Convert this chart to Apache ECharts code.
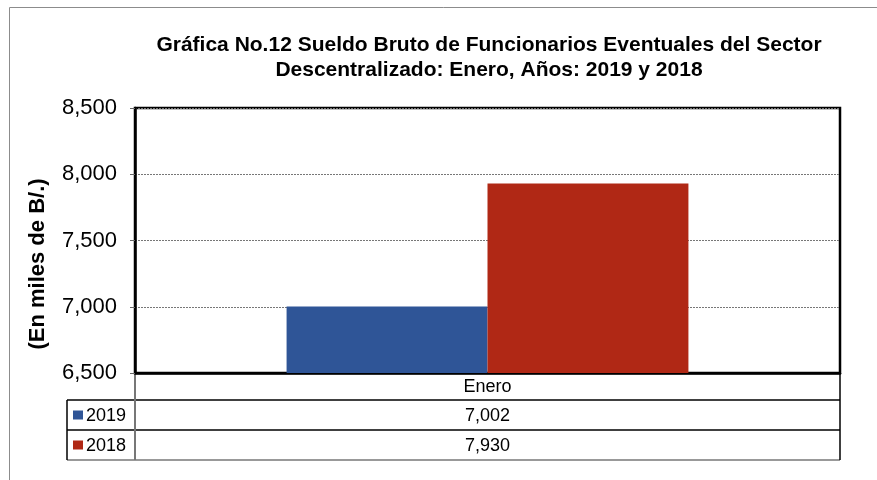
<!DOCTYPE html>
<html>
<head>
<meta charset="utf-8">
<script src="https://cdn.jsdelivr.net/npm/echarts@6/dist/echarts.min.js"></script>
<style>
  html, body { margin: 0; padding: 0; background: #fff; }
  #chart { width: 877px; height: 480px; }
</style>
</head>
<body>
<div id="chart"></div>
<script>
// datos
const categories = ['Enero'];
const years = ['2019', '2018'];
const sueldo2019 = [7002];
const sueldo2018 = [7930];
const yMin = 6500, yMax = 8500, yStep = 500;

const colors = ['#2F5597', '#B02815'];
const font = 'Arial, "Liberation Sans", sans-serif';
const fmt = v => v.toLocaleString('en-US');

// medidas del area de trazado y de la tabla
const L = 135, R = 840, T = 108, B = 373;
const rows = [B, 400, 430, 460];
const keyLeft = 67;

let myChart = echarts.init(document.getElementById('chart'));

const tableGraphics = [];
// recuadro exterior del grafico
tableGraphics.push({
  type: 'rect', silent: true,
  shape: { x: 9.5, y: 7.5, width: 900, height: 520 },
  style: { fill: null, stroke: '#8c8c8c', lineWidth: 1 }
});
// lineas horizontales de la tabla
tableGraphics.push({ type: 'line', shape: { x1: keyLeft, y1: rows[1], x2: R, y2: rows[1] }, style: { stroke: '#000', lineWidth: 1.5 } });
tableGraphics.push({ type: 'line', shape: { x1: keyLeft, y1: rows[2], x2: R, y2: rows[2] }, style: { stroke: '#000', lineWidth: 1.5 } });
tableGraphics.push({ type: 'line', shape: { x1: keyLeft, y1: rows[3], x2: R, y2: rows[3] }, style: { stroke: '#777', lineWidth: 1.5 } });
// lineas verticales
tableGraphics.push({ type: 'line', shape: { x1: keyLeft, y1: rows[1], x2: keyLeft, y2: rows[3] }, style: { stroke: '#000', lineWidth: 1.5 } });
tableGraphics.push({ type: 'line', shape: { x1: L, y1: B, x2: L, y2: rows[3] }, style: { stroke: '#777', lineWidth: 2 } });
tableGraphics.push({ type: 'line', shape: { x1: R, y1: B, x2: R, y2: rows[3] }, style: { stroke: '#000', lineWidth: 1.5 } });

// categoria
tableGraphics.push({
  type: 'text', x: (L + R) / 2, y: (rows[0] + rows[1]) / 2 + 1,
  style: { text: categories[0], font: '18px ' + font, fill: '#000', textAlign: 'center', textVerticalAlign: 'middle' }
});
const tableValues = [sueldo2019, sueldo2018];
years.forEach((y, i) => {
  const cy = (rows[i + 1] + rows[i + 2]) / 2;
  tableGraphics.push({
    type: 'rect', shape: { x: 73, y: cy - 4.5, width: 10, height: 9 },
    style: { fill: colors[i] }
  });
  tableGraphics.push({
    type: 'text', x: 86, y: cy + 1,
    style: { text: y, font: '18px ' + font, fill: '#000', textAlign: 'left', textVerticalAlign: 'middle' }
  });
  tableGraphics.push({
    type: 'text', x: (L + R) / 2, y: cy + 1,
    style: { text: fmt(tableValues[i][0]), font: '18px ' + font, fill: '#000', textAlign: 'center', textVerticalAlign: 'middle' }
  });
});
// titulo del eje
tableGraphics.push({
  type: 'text', x: 38, y: 264, rotation: Math.PI / 2,
  style: { text: '(En miles de B/.)', font: 'bold 22px ' + font, fill: '#000', textAlign: 'center', textVerticalAlign: 'middle' }
});

myChart.setOption({
  animation: false,
  title: {
    text: 'Gráfica No.12 Sueldo Bruto de Funcionarios Eventuales del Sector\nDescentralizado: Enero, Años: 2019 y 2018',
    left: 484, top: 28, textAlign: 'center',
    textStyle: { fontFamily: font, fontSize: 21, fontWeight: 'bold', color: '#000', lineHeight: 25 }
  },
  grid: {
    left: L, right: 877 - R, top: T, bottom: 480 - B,
    show: true, borderColor: '#000', borderWidth: 2.5, backgroundColor: '#fff'
  },
  xAxis: {
    type: 'category',
    data: categories,
    axisLine: { show: true, lineStyle: { color: '#000', width: 2.5 } },
    axisTick: { show: false },
    axisLabel: { show: false }
  },
  yAxis: {
    type: 'value',
    min: yMin, max: yMax, interval: yStep,
    axisLine: { show: true, lineStyle: { color: '#000', width: 2.5 } },
    axisTick: { show: true, length: 5, lineStyle: { color: '#666' } },
    axisLabel: { fontFamily: font, fontSize: 22, color: '#000', margin: 18, formatter: v => fmt(v) },
    splitLine: { show: true, lineStyle: { color: '#777', type: [2, 1], width: 1 } }
  },
  series: [
    {
      name: years[0], type: 'bar', data: sueldo2019,
      itemStyle: { color: colors[0] },
      barGap: '0%', barCategoryGap: '43%'
    },
    {
      name: years[1], type: 'bar', data: sueldo2018,
      itemStyle: { color: colors[1] },
      barGap: '0%', barCategoryGap: '43%'
    }
  ],
  graphic: tableGraphics
});
</script>
</body>
</html>
